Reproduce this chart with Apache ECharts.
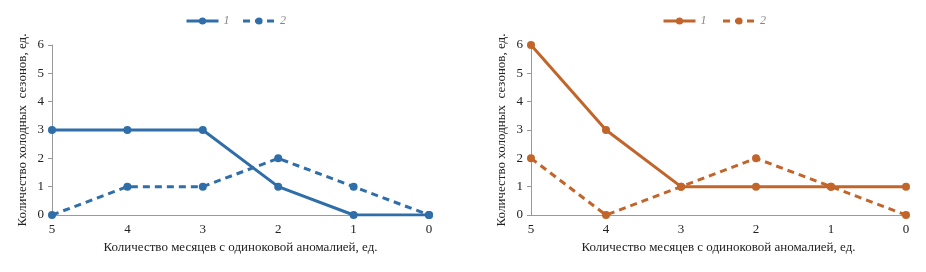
<!DOCTYPE html>
<html>
<head>
<meta charset="utf-8">
<script src="https://cdn.jsdelivr.net/npm/echarts@6/dist/echarts.min.js"></script>
<style>
html,body{margin:0;padding:0;background:#fff;}
#showChart{width:926px;height:272px;}
</style>
</head>
<body>
<div id="showChart"></div>
<script>
var myChart = echarts.init(document.getElementById('showChart'));

// категории по оси X и значения рядов
var categories = ['5', '4', '3', '2', '1', '0'];
var leftSeries1 = [3, 3, 3, 1, 0, 0];
var leftSeries2 = [0, 1, 1, 2, 1, 0];
var rightSeries1 = [6, 3, 1, 1, 1, 1];
var rightSeries2 = [2, 0, 1, 2, 1, 0];
var seriesNames = ['1', '2'];

var blue = '#2f6ea9';
var orange = '#c2652a';
var font = 'Liberation Serif';
var xName = 'Количество месяцев с одиноковой аномалией, ед.';
var yName = 'Количество холодных  сезонов, ед.';

function xAxis(idx) {
    return {
        type: 'category',
        gridIndex: idx,
        data: categories,
        boundaryGap: false,
        name: xName,
        nameLocation: 'middle',
        nameGap: 26,
        nameTextStyle: { fontFamily: font, fontSize: 13, color: '#222' },
        axisLine: { lineStyle: { color: '#999', width: 1 } },
        axisTick: { show: false },
        axisLabel: { fontFamily: font, fontSize: 13, color: '#222', margin: 8 }
    };
}
function yAxis(idx) {
    return {
        type: 'value',
        gridIndex: idx,
        min: 0,
        max: 6,
        interval: 1,
        name: yName,
        nameLocation: 'middle',
        nameGap: 23,
        nameTextStyle: { fontFamily: font, fontSize: 13, color: '#222' },
        axisLine: { show: true, lineStyle: { color: '#999', width: 1 } },
        axisTick: { show: true, length: 4, lineStyle: { color: '#999' } },
        splitLine: { show: false },
        axisLabel: { fontFamily: font, fontSize: 13, color: '#222', margin: 8 }
    };
}
function line(name, idx, data, color, dashed) {
    return {
        name: name,
        type: 'line',
        xAxisIndex: idx,
        yAxisIndex: idx,
        data: data,
        symbol: 'circle',
        symbolSize: 8,
        color: color,
        itemStyle: { color: color },
        lineStyle: { color: color, width: 3, type: dashed ? [7, 5] : 'solid' },
        animation: false
    };
}

function legend(left, names) {
    return {
        left: left, top: 10, itemWidth: 32, itemHeight: 9, itemGap: 12,
        lineStyle: { width: 3 },
        textStyle: { fontFamily: font, fontStyle: 'italic', fontSize: 12, color: '#888' },
        data: names
    };
}

option = {
    backgroundColor: '#fff',
    legend: [
        legend(180, [seriesNames[0], seriesNames[1]]),
        legend(657, [seriesNames[0] + ' ', seriesNames[1] + ' '])
    ],
    grid: [
        { left: 52, top: 45, width: 377, height: 170 },
        { left: 531, top: 45, width: 375, height: 170 }
    ],
    xAxis: [xAxis(0), xAxis(1)],
    yAxis: [yAxis(0), yAxis(1)],
    series: [
        line(seriesNames[0], 0, leftSeries1, blue, false),
        line(seriesNames[1], 0, leftSeries2, blue, true),
        line(seriesNames[0] + ' ', 1, rightSeries1, orange, false),
        line(seriesNames[1] + ' ', 1, rightSeries2, orange, true)
    ]
};

myChart.setOption(option);
</script>
</body>
</html>
